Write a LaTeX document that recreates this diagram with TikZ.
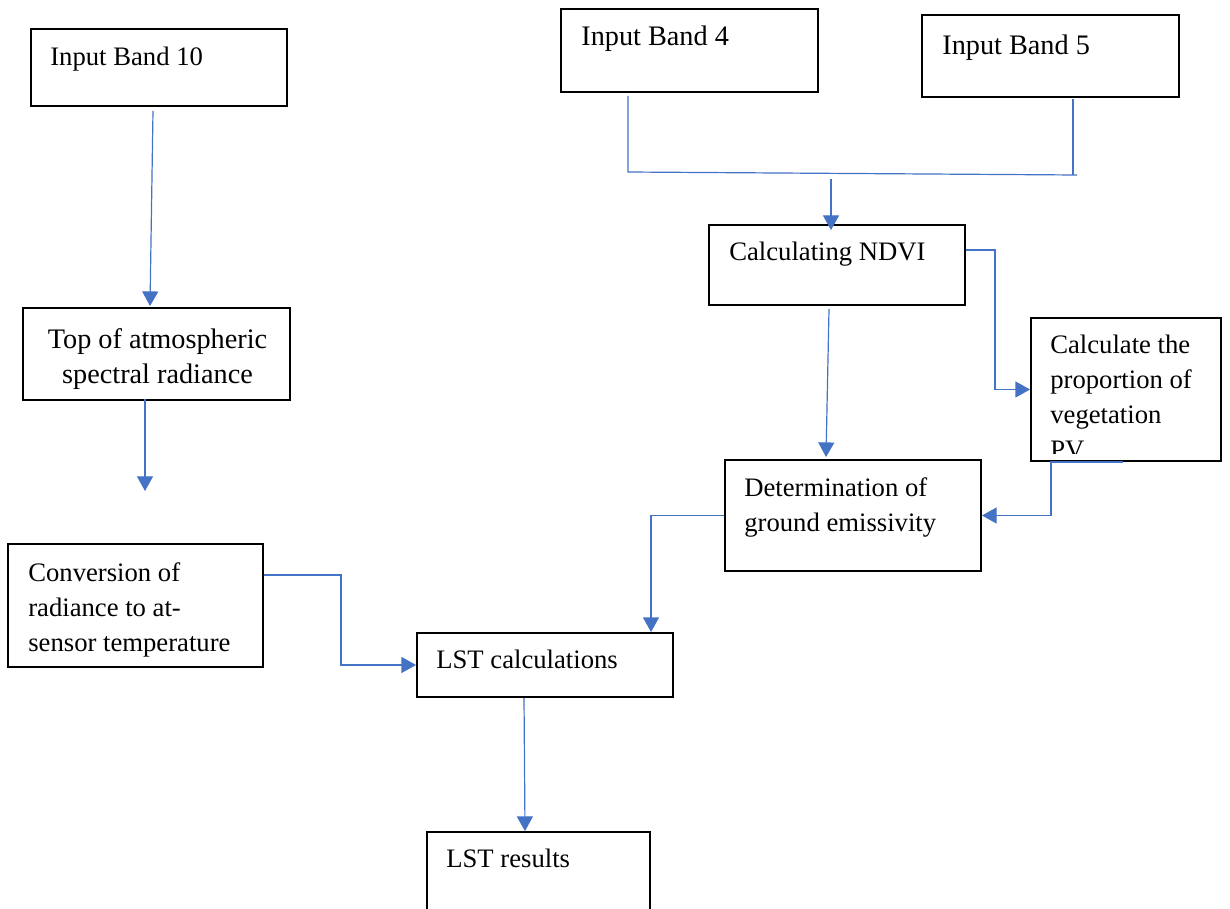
\documentclass[tikz,border=0pt]{standalone}
\usepackage{fontspec}
\setmainfont{Liberation Serif}
\usetikzlibrary{arrows.meta,positioning}
\definecolor{lineblue}{HTML}{4472C4}

\begin{document}
\begin{tikzpicture}[x=0.75pt, y=-0.75pt,
    box/.style={rectangle, draw, line width=1.4pt, inner sep=0pt},
    txt/.style={anchor=north west, align=left, inner sep=0pt, font=\fontsize{20}{26.25}\selectfont},
    bigtxt/.style={txt, font=\fontsize{21.2}{26.25}\selectfont},
    line/.style={draw=lineblue, line width=0.9pt},
    arrow/.style={line, -{Triangle[width=12pt,length=11pt]}}
]
    \clip (0,0) rectangle (1230,909);

    % boxes
    \node[box, minimum width=192pt, minimum height=57.75pt] (b10) at (159,67.5) {};
    \node[box, minimum width=192.75pt, minimum height=62.25pt] (b4) at (689.5,50.5) {};
    \node[box, minimum width=192.75pt, minimum height=61.5pt] (b5) at (1050.5,56) {};
    \node[box, minimum width=200.25pt, minimum height=69pt] (toa) at (156.5,354) {};
    \node[box, minimum width=192pt, minimum height=60pt] (ndvi) at (837,265) {};
    \node[box, minimum width=142.5pt, minimum height=107.25pt] (pv) at (1126,389.5) {};
    \node[box, minimum width=192pt, minimum height=83.25pt] (emis) at (853,515.5) {};
    \node[box, minimum width=191.25pt, minimum height=92.25pt] (conv) at (135.5,605.5) {};
    \node[box, minimum width=192pt, minimum height=48pt] (lstc) at (545,665) {};
    \node[box, minimum width=167.25pt, minimum height=82.5pt] (lstr) at (538.5,887) {};

    % texts
    \node[txt] (b10t) at ([shift={(20,19)}]b10.north west) {Input Band 10};
    \node[bigtxt] (b4t) at ([shift={(21,18)}]b4.north west) {Input Band 4};
    \node[bigtxt] (b5t) at ([shift={(21,21)}]b5.north west) {Input Band 5};
    \node[bigtxt, anchor=north, align=center] (toat) at ([shift={(1,21)}]toa.north) {Top of atmospheric\\spectral radiance};
    \node[txt] (ndvit) at ([shift={(21,18)}]ndvi.north west) {Calculating NDVI};
    \begin{scope}
        \clip ([shift={(0,-8)}]pv.south west) rectangle (pv.north east);
        \node[txt] (pvt) at ([shift={(20,18)}]pv.north west) {Calculate the\\proportion of\\vegetation\\PV};
    \end{scope}
    \node[txt] (emist) at ([shift={(20,18)}]emis.north west) {Determination of\\ground emissivity};
    \node[txt] (convt) at ([shift={(21,19)}]conv.north west) {Conversion of\\radiance to at-\\sensor temperature};
    \node[txt] (lstct) at ([shift={(20,18)}]lstc.north west) {LST calculations};
    \node[txt] (lstrt) at ([shift={(20,18)}]lstr.north west) {LST results};

    % free ends
    \coordinate (gap) at (145,491);
    \coordinate (m4) at (628,172);
    \coordinate (m5) at (1077,175);
    \coordinate (join) at (831,179);

    % connectors
    \draw[arrow] ([shift={(-6,4)}]b10.south) -- ([shift={(-6.5,-1)}]toa.north);
    \draw[arrow] ([shift={(0,-2)}]toa.south -| gap) -- (gap);
    \draw[line] ([shift={(0,3)}]b4.south -| m4) -- (m4) -- (m5);
    \draw[line] ([shift={(0,1)}]b5.south -| 1073,0) -- (1073,175);
    \draw[arrow, shorten >=-4.5pt] (join) -- (join |- ndvi.north);
    \draw[arrow] ([shift={(0,-15)}]ndvi.east) -- ++(29,0) |- (pv.west);
    \draw[arrow] ([shift={(-8,3)}]ndvi.south) -- ([shift={(-27,-2)}]emis.north);
    \draw[arrow] ([shift={(-3,0)}]pv.south) -- ++(-72,0) |- (emis.east);
    \draw[arrow] (emis.west) -| ([shift={(106,0)}]lstc.north);
    \draw[arrow] ([shift={(0,-30.5)}]conv.east) -- ++(77,0) |- (lstc.west);
    \draw[arrow] ([shift={(-21,0)}]lstc.south) -- ([shift={(-13.5,0)}]lstr.north);
\end{tikzpicture}
\end{document}
